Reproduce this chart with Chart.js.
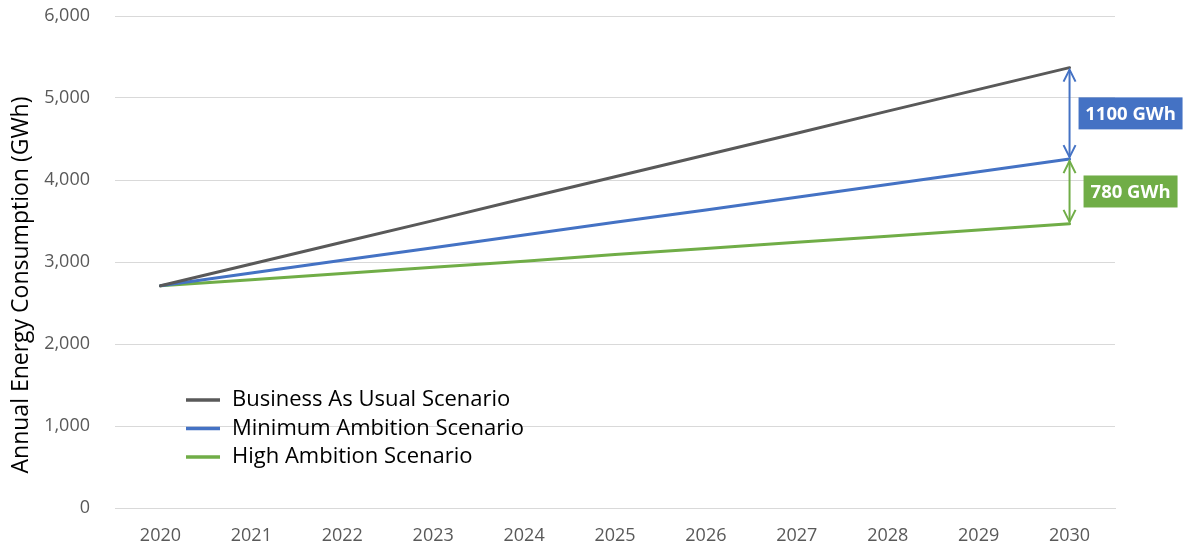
<!DOCTYPE html>
<html>
<head>
<meta charset="utf-8">
<script src="https://cdn.jsdelivr.net/npm/chart.js@4.4.1/dist/chart.umd.min.js"></script>
<style>
  html, body { margin: 0; padding: 0; background: #fff; }
  #wrap { width: 1187px; height: 545px; }
</style>
</head>
<body>
<div id="wrap"><canvas id="energyChart" width="1187" height="545"></canvas></div>
<script>
const years = ['2020', '2021', '2022', '2023', '2024', '2025', '2026', '2027', '2028', '2029', '2030'];
const businessAsUsual = [2710, 2975, 3240, 3505, 3775, 4040, 4305, 4570, 4840, 5105, 5370];
const minimumAmbition = [2710, 2865, 3020, 3175, 3330, 3485, 3635, 3790, 3945, 4100, 4255];
const highAmbition = [2710, 2785, 2860, 2935, 3010, 3090, 3165, 3240, 3315, 3390, 3465];
const gapLabels = ['1100 GWh', '780 GWh'];
const yTitle = 'Annual Energy Consumption (GWh)';

const FONT = '"Open Sans", sans-serif';
const GREY = '#595959';
const BLUE = '#4472C4';
const GREEN = '#70AD47';

function arrowHead(ctx, x, y, dir) {
  // dir = -1 pointing up, 1 pointing down
  ctx.beginPath();
  ctx.moveTo(x - 6, y - dir * 12);
  ctx.lineTo(x, y);
  ctx.lineTo(x + 6, y - dir * 12);
  ctx.stroke();
}

const extras = {
  id: 'extras',
  afterDatasetsDraw(chart) {
    const ctx = chart.ctx;
    const xs = chart.scales.x;
    const ys = chart.scales.y;
    const last = years.length - 1;
    const x = xs.getPixelForValue(last);
    const yB = ys.getPixelForValue(businessAsUsual[last]);
    const yM = ys.getPixelForValue(minimumAmbition[last]);
    const yH = ys.getPixelForValue(highAmbition[last]);

    const gaps = [[yB, yM, BLUE, gapLabels[0], 104], [yM, yH, GREEN, gapLabels[1], 94]];
    ctx.save();
    gaps.forEach(([top, bottom, color, text, w]) => {
      ctx.strokeStyle = color;
      ctx.lineWidth = 2;
      ctx.beginPath();
      ctx.moveTo(x, top + 2);
      ctx.lineTo(x, bottom - 2);
      ctx.stroke();
      arrowHead(ctx, x, top + 2, -1);
      arrowHead(ctx, x, bottom - 2, 1);

      const cx = x + 61, cy = (top + bottom) / 2;
      ctx.fillStyle = color;
      ctx.fillRect(cx - w / 2, cy - 16, w, 32);
      ctx.fillStyle = '#fff';
      ctx.font = 'bold 18.5px ' + FONT;
      ctx.textAlign = 'center';
      ctx.textBaseline = 'middle';
      ctx.fillText(text, cx, cy + 1);
    });

    // legend inside plot
    chart.data.datasets.forEach((ds, i) => {
      const ly = 400 + i * 28.5;
      ctx.strokeStyle = ds.borderColor;
      ctx.lineWidth = 3.5;
      ctx.beginPath();
      ctx.moveTo(186, ly);
      ctx.lineTo(220, ly);
      ctx.stroke();
      ctx.fillStyle = '#000';
      ctx.font = '22px ' + FONT;
      ctx.textAlign = 'left';
      ctx.textBaseline = 'middle';
      ctx.fillText(ds.label, 232, ly);
    });

    // y axis title, sits a bit below the plot centre like the original
    ctx.translate(21, 285);
    ctx.rotate(-Math.PI / 2);
    ctx.fillStyle = '#000';
    ctx.font = '23px ' + FONT;
    ctx.textAlign = 'center';
    ctx.textBaseline = 'middle';
    ctx.fillText(yTitle, 0, 0);
    ctx.restore();
  }
};

new Chart(document.getElementById('energyChart'), {
  type: 'line',
  data: {
    labels: years,
    datasets: [
      { label: 'Business As Usual Scenario', data: businessAsUsual, borderColor: GREY, backgroundColor: GREY },
      { label: 'Minimum Ambition Scenario', data: minimumAmbition, borderColor: BLUE, backgroundColor: BLUE },
      { label: 'High Ambition Scenario', data: highAmbition, borderColor: GREEN, backgroundColor: GREEN }
    ]
  },
  options: {
    responsive: false,
    animation: false,
    layout: { padding: { top: 16, right: 72, left: 0, bottom: 0 } },
    elements: {
      line: { borderWidth: 3, tension: 0, borderCapStyle: 'round' },
      point: { radius: 0 }
    },
    plugins: {
      legend: { display: false },
      tooltip: { enabled: false }
    },
    scales: {
      x: {
        offset: true,
        grid: { display: false, drawTicks: false },
        border: { color: '#d9d9d9', width: 1 },
        ticks: { color: GREY, font: { family: FONT, size: 18 }, padding: 17, maxRotation: 0 },
        afterFit: s => { s.height = 37; s.paddingLeft = 0; s.paddingRight = 0; }
      },
      y: {
        min: 0,
        max: 6000,
        ticks: {
          stepSize: 1000,
          color: GREY,
          font: { family: FONT, size: 18 },
          padding: 25,
          callback: v => v.toLocaleString('en-US')
        },
        grid: { color: '#d9d9d9', lineWidth: 1, drawTicks: false },
        border: { display: false },
        afterFit: s => { s.width = 115; s.paddingTop = 0; s.paddingBottom = 0; }
      }
    }
  },
  plugins: [extras]
});
</script>
</body>
</html>
